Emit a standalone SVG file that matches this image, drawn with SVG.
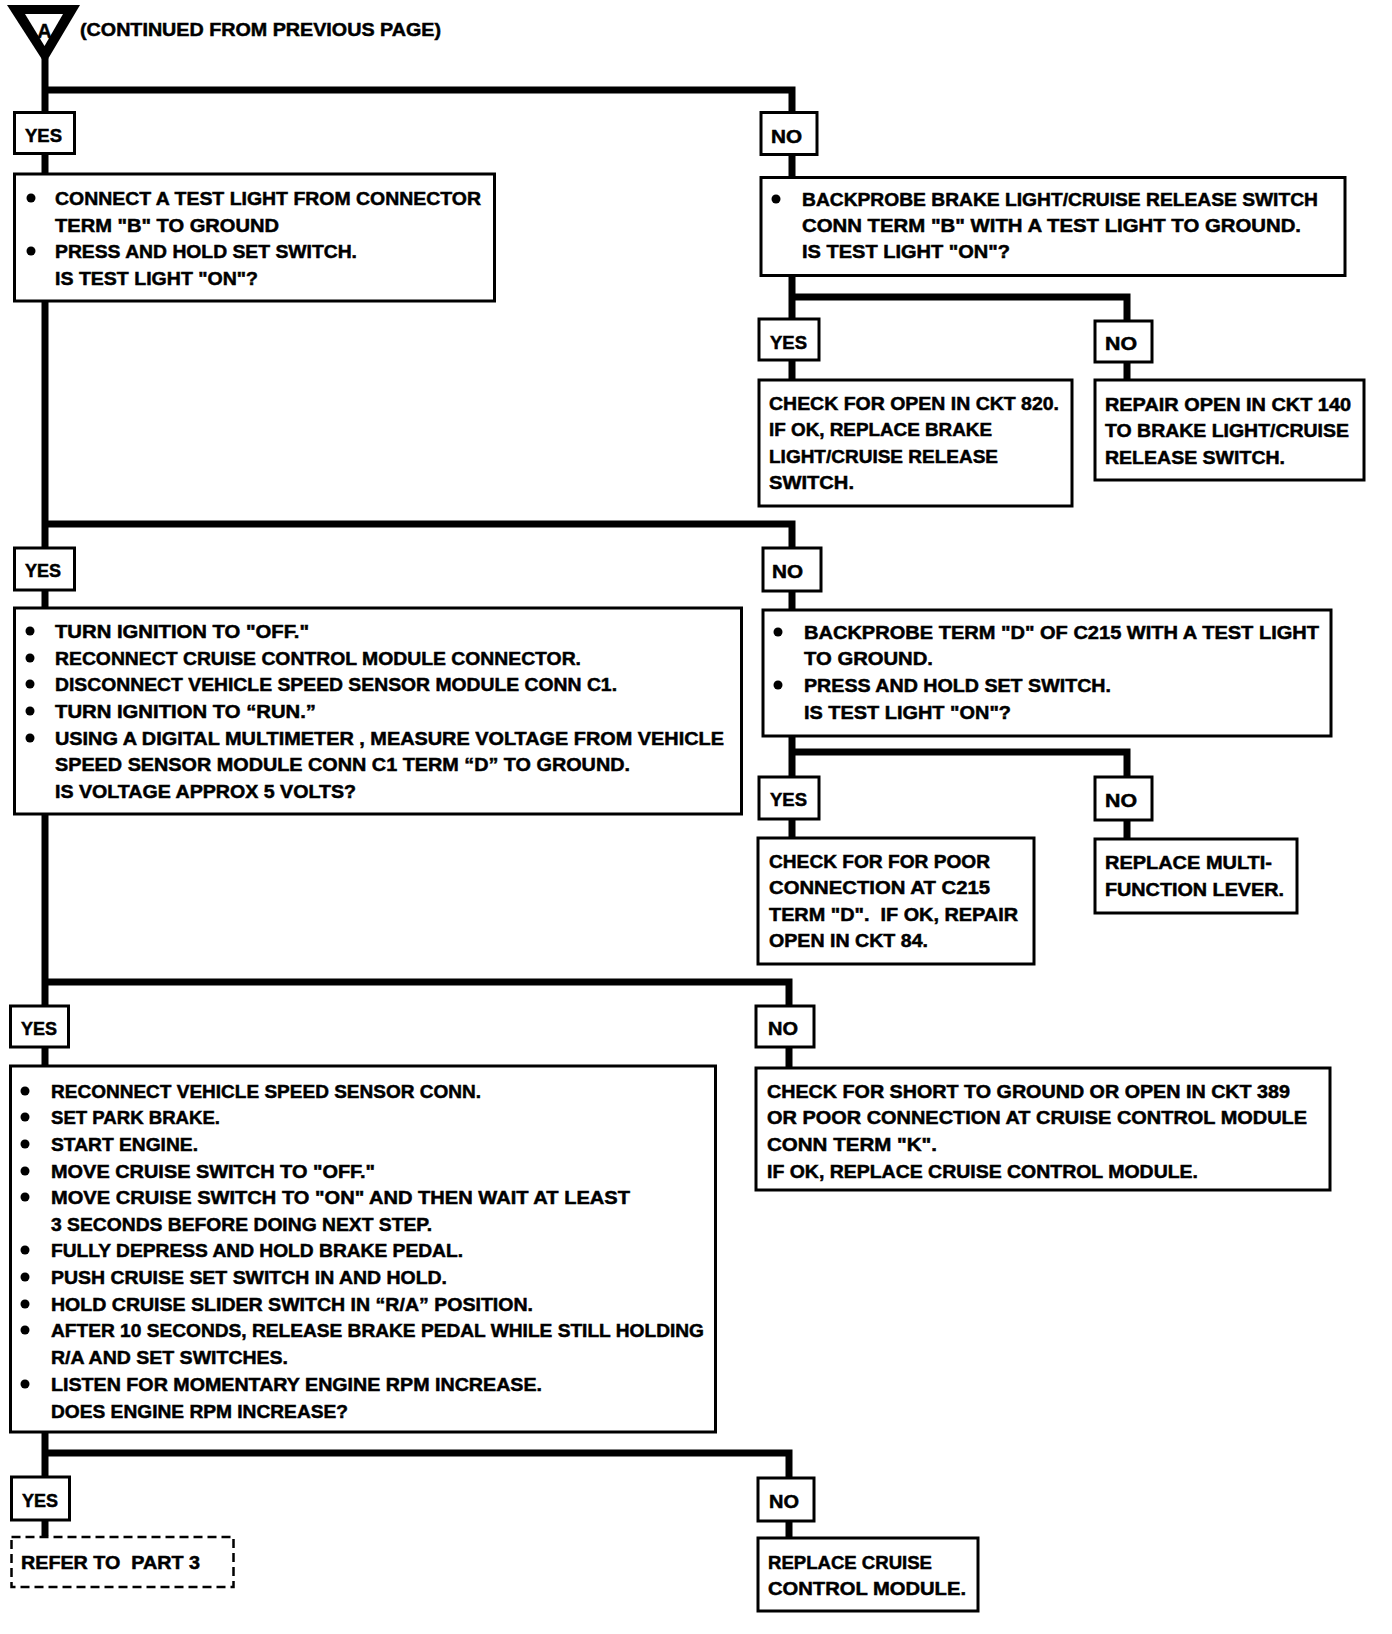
<svg xmlns="http://www.w3.org/2000/svg" width="1392" height="1634" viewBox="0 0 1392 1634">
<style>
.box{fill:#fff;stroke:#000;stroke-width:3}
.dash{fill:#fff;stroke:#000;stroke-width:2.5;stroke-dasharray:9 5}
.wire{fill:none;stroke:#000;stroke-width:7;stroke-linejoin:miter;stroke-linecap:butt}
text{font-family:"Liberation Sans",Arial,sans-serif;font-weight:bold;font-size:18.5px;fill:#000;stroke:#000;stroke-width:0.5;white-space:pre}
</style>
<rect width="1392" height="1634" fill="#fff"/>
<g id="connectors">
<path class="wire" d="M45,58 V1536"/>
<path class="wire" d="M45,90 H792 V177"/>
<path class="wire" d="M792,276 V379 M792,297 H1127 V379"/>
<path class="wire" d="M45,524 H792 V609"/>
<path class="wire" d="M792,737 V837 M792,752 H1127 V838"/>
<path class="wire" d="M45,982 H789 V1067"/>
<path class="wire" d="M45,1453 H789 V1537"/>
</g>
<g id="start">
<polygon points="7,5 80,5 45,64" fill="#000"/>
<polygon points="25,14 63,14 44.5,46" fill="#fff"/>
<text x="44.5" y="38" text-anchor="middle" style="font-size:20px">A</text>
<text x="80" y="36" textLength="361" lengthAdjust="spacingAndGlyphs">(CONTINUED FROM PREVIOUS PAGE)</text>
</g>
<g id="yes1"><rect class="box" x="14.5" y="112.5" width="60" height="41"/><text x="25" y="142" textLength="37" lengthAdjust="spacingAndGlyphs">YES</text></g>
<g id="no1"><rect class="box" x="761" y="112.5" width="56" height="42"/><text x="771" y="143" textLength="31" lengthAdjust="spacingAndGlyphs">NO</text></g>
<g id="q1">
<rect class="box" x="14.5" y="174" width="480" height="127"/>
<circle cx="31" cy="198" r="4.5"/><circle cx="31" cy="251" r="4.5"/>
<text x="55" y="205" textLength="426" lengthAdjust="spacingAndGlyphs">CONNECT A TEST LIGHT FROM CONNECTOR</text>
<text x="55" y="232" textLength="224" lengthAdjust="spacingAndGlyphs">TERM "B" TO GROUND</text>
<text x="55" y="258" textLength="302" lengthAdjust="spacingAndGlyphs">PRESS AND HOLD SET SWITCH.</text>
<text x="55" y="285" textLength="203" lengthAdjust="spacingAndGlyphs">IS TEST LIGHT "ON"?</text>
</g>
<g id="q1no">
<rect class="box" x="761" y="177.5" width="584" height="98"/>
<circle cx="776" cy="199" r="4.5"/>
<text x="802" y="206" textLength="516" lengthAdjust="spacingAndGlyphs">BACKPROBE BRAKE LIGHT/CRUISE RELEASE SWITCH</text>
<text x="802" y="232" textLength="499" lengthAdjust="spacingAndGlyphs">CONN TERM "B" WITH A TEST LIGHT TO GROUND.</text>
<text x="802" y="258" textLength="208" lengthAdjust="spacingAndGlyphs">IS TEST LIGHT "ON"?</text>
</g>
<g id="yes2"><rect class="box" x="759" y="319" width="60" height="41"/><text x="770" y="349" textLength="37" lengthAdjust="spacingAndGlyphs">YES</text></g>
<g id="no2"><rect class="box" x="1095" y="321" width="57" height="41"/><text x="1105" y="350" textLength="32" lengthAdjust="spacingAndGlyphs">NO</text></g>
<g id="r820">
<rect class="box" x="759" y="380" width="313" height="126"/>
<text x="769" y="410" textLength="290" lengthAdjust="spacingAndGlyphs">CHECK FOR OPEN IN CKT 820.</text>
<text x="769" y="436" textLength="223" lengthAdjust="spacingAndGlyphs">IF OK, REPLACE BRAKE</text>
<text x="769" y="463" textLength="229" lengthAdjust="spacingAndGlyphs">LIGHT/CRUISE RELEASE</text>
<text x="769" y="489" textLength="85" lengthAdjust="spacingAndGlyphs">SWITCH.</text>
</g>
<g id="r140">
<rect class="box" x="1095" y="380" width="269" height="100"/>
<text x="1105" y="411" textLength="246" lengthAdjust="spacingAndGlyphs">REPAIR OPEN IN CKT 140</text>
<text x="1105" y="437" textLength="244" lengthAdjust="spacingAndGlyphs">TO BRAKE LIGHT/CRUISE</text>
<text x="1105" y="464" textLength="180" lengthAdjust="spacingAndGlyphs">RELEASE SWITCH.</text>
</g>
<g id="yes3"><rect class="box" x="14.5" y="548" width="60" height="42"/><text x="25" y="577" textLength="36" lengthAdjust="spacingAndGlyphs">YES</text></g>
<g id="no3"><rect class="box" x="763" y="548" width="58" height="43"/><text x="772" y="578" textLength="31" lengthAdjust="spacingAndGlyphs">NO</text></g>
<g id="q2">
<rect class="box" x="14.5" y="608" width="727" height="206"/>
<circle cx="30" cy="631" r="4.5"/><circle cx="30" cy="658" r="4.5"/><circle cx="30" cy="684" r="4.5"/><circle cx="30" cy="711" r="4.5"/><circle cx="30" cy="738" r="4.5"/>
<text x="55" y="638" textLength="254" lengthAdjust="spacingAndGlyphs">TURN IGNITION TO "OFF."</text>
<text x="55" y="665" textLength="526" lengthAdjust="spacingAndGlyphs">RECONNECT CRUISE CONTROL MODULE CONNECTOR.</text>
<text x="55" y="691" textLength="562" lengthAdjust="spacingAndGlyphs">DISCONNECT VEHICLE SPEED SENSOR MODULE CONN C1.</text>
<text x="55" y="718" textLength="261" lengthAdjust="spacingAndGlyphs">TURN IGNITION TO “RUN.”</text>
<text x="55" y="745" textLength="669" lengthAdjust="spacingAndGlyphs">USING A DIGITAL MULTIMETER , MEASURE VOLTAGE FROM VEHICLE</text>
<text x="55" y="771" textLength="575" lengthAdjust="spacingAndGlyphs">SPEED SENSOR MODULE CONN C1 TERM “D” TO GROUND.</text>
<text x="55" y="798" textLength="301" lengthAdjust="spacingAndGlyphs">IS VOLTAGE APPROX 5 VOLTS?</text>
</g>
<g id="q2no">
<rect class="box" x="763" y="610" width="568" height="126"/>
<circle cx="778" cy="632" r="4.5"/><circle cx="778" cy="685" r="4.5"/>
<text x="804" y="639" textLength="515" lengthAdjust="spacingAndGlyphs">BACKPROBE TERM "D" OF C215 WITH A TEST LIGHT</text>
<text x="804" y="665" textLength="129" lengthAdjust="spacingAndGlyphs">TO GROUND.</text>
<text x="804" y="692" textLength="307" lengthAdjust="spacingAndGlyphs">PRESS AND HOLD SET SWITCH.</text>
<text x="804" y="719" textLength="207" lengthAdjust="spacingAndGlyphs">IS TEST LIGHT "ON"?</text>
</g>
<g id="yes4"><rect class="box" x="759" y="777" width="60" height="42"/><text x="770" y="806" textLength="37" lengthAdjust="spacingAndGlyphs">YES</text></g>
<g id="no4"><rect class="box" x="1095" y="777" width="57" height="43"/><text x="1105" y="807" textLength="32" lengthAdjust="spacingAndGlyphs">NO</text></g>
<g id="rpoor">
<rect class="box" x="758" y="838" width="276" height="126"/>
<text x="769" y="868" textLength="221" lengthAdjust="spacingAndGlyphs">CHECK FOR FOR POOR</text>
<text x="769" y="894" textLength="221" lengthAdjust="spacingAndGlyphs">CONNECTION AT C215</text>
<text x="769" y="921" textLength="249" lengthAdjust="spacingAndGlyphs">TERM "D".  IF OK, REPAIR</text>
<text x="769" y="947" textLength="159" lengthAdjust="spacingAndGlyphs">OPEN IN CKT 84.</text>
</g>
<g id="rmulti">
<rect class="box" x="1095" y="839" width="202" height="74"/>
<text x="1105" y="869" textLength="167" lengthAdjust="spacingAndGlyphs">REPLACE MULTI-</text>
<text x="1105" y="896" textLength="179" lengthAdjust="spacingAndGlyphs">FUNCTION LEVER.</text>
</g>
<g id="yes5"><rect class="box" x="10.5" y="1006" width="58" height="41"/><text x="21" y="1035" textLength="36" lengthAdjust="spacingAndGlyphs">YES</text></g>
<g id="no5"><rect class="box" x="756" y="1006" width="58" height="41"/><text x="768" y="1035" textLength="30" lengthAdjust="spacingAndGlyphs">NO</text></g>
<g id="q3">
<rect class="box" x="10.5" y="1066" width="705" height="366"/>
<circle cx="25" cy="1091" r="4.5"/><circle cx="25" cy="1117" r="4.5"/><circle cx="25" cy="1144" r="4.5"/><circle cx="25" cy="1171" r="4.5"/><circle cx="25" cy="1197" r="4.5"/><circle cx="25" cy="1250" r="4.5"/><circle cx="25" cy="1277" r="4.5"/><circle cx="25" cy="1304" r="4.5"/><circle cx="25" cy="1330" r="4.5"/><circle cx="25" cy="1384" r="4.5"/>
<text x="51" y="1098" textLength="430" lengthAdjust="spacingAndGlyphs">RECONNECT VEHICLE SPEED SENSOR CONN.</text>
<text x="51" y="1124" textLength="169" lengthAdjust="spacingAndGlyphs">SET PARK BRAKE.</text>
<text x="51" y="1151" textLength="147" lengthAdjust="spacingAndGlyphs">START ENGINE.</text>
<text x="51" y="1178" textLength="324" lengthAdjust="spacingAndGlyphs">MOVE CRUISE SWITCH TO "OFF."</text>
<text x="51" y="1204" textLength="579" lengthAdjust="spacingAndGlyphs">MOVE CRUISE SWITCH TO "ON" AND THEN WAIT AT LEAST</text>
<text x="51" y="1231" textLength="381" lengthAdjust="spacingAndGlyphs">3 SECONDS BEFORE DOING NEXT STEP.</text>
<text x="51" y="1257" textLength="412" lengthAdjust="spacingAndGlyphs">FULLY DEPRESS AND HOLD BRAKE PEDAL.</text>
<text x="51" y="1284" textLength="396" lengthAdjust="spacingAndGlyphs">PUSH CRUISE SET SWITCH IN AND HOLD.</text>
<text x="51" y="1311" textLength="482" lengthAdjust="spacingAndGlyphs">HOLD CRUISE SLIDER SWITCH IN “R/A” POSITION.</text>
<text x="51" y="1337" textLength="653" lengthAdjust="spacingAndGlyphs">AFTER 10 SECONDS, RELEASE BRAKE PEDAL WHILE STILL HOLDING</text>
<text x="51" y="1364" textLength="237" lengthAdjust="spacingAndGlyphs">R/A AND SET SWITCHES.</text>
<text x="51" y="1391" textLength="491" lengthAdjust="spacingAndGlyphs">LISTEN FOR MOMENTARY ENGINE RPM INCREASE.</text>
<text x="51" y="1418" textLength="297" lengthAdjust="spacingAndGlyphs">DOES ENGINE RPM INCREASE?</text>
</g>
<g id="q3no">
<rect class="box" x="756" y="1068" width="574" height="122"/>
<text x="767" y="1098" textLength="523" lengthAdjust="spacingAndGlyphs">CHECK FOR SHORT TO GROUND OR OPEN IN CKT 389</text>
<text x="767" y="1124" textLength="540" lengthAdjust="spacingAndGlyphs">OR POOR CONNECTION AT CRUISE CONTROL MODULE</text>
<text x="767" y="1151" textLength="170" lengthAdjust="spacingAndGlyphs">CONN TERM "K".</text>
<text x="767" y="1178" textLength="431" lengthAdjust="spacingAndGlyphs">IF OK, REPLACE CRUISE CONTROL MODULE.</text>
</g>
<g id="yes6"><rect class="box" x="11.5" y="1477" width="58" height="43"/><text x="22" y="1507" textLength="36" lengthAdjust="spacingAndGlyphs">YES</text></g>
<g id="no6"><rect class="box" x="758" y="1478" width="56" height="43"/><text x="769" y="1508" textLength="30" lengthAdjust="spacingAndGlyphs">NO</text></g>
<g id="part3">
<rect class="dash" x="11.5" y="1537" width="222" height="50"/>
<text x="21" y="1569" textLength="179" lengthAdjust="spacingAndGlyphs">REFER TO  PART 3</text>
</g>
<g id="replace">
<rect class="box" x="758" y="1538" width="220" height="73"/>
<text x="768" y="1569" textLength="164" lengthAdjust="spacingAndGlyphs">REPLACE CRUISE</text>
<text x="768" y="1595" textLength="198" lengthAdjust="spacingAndGlyphs">CONTROL MODULE.</text>
</g>
</svg>
